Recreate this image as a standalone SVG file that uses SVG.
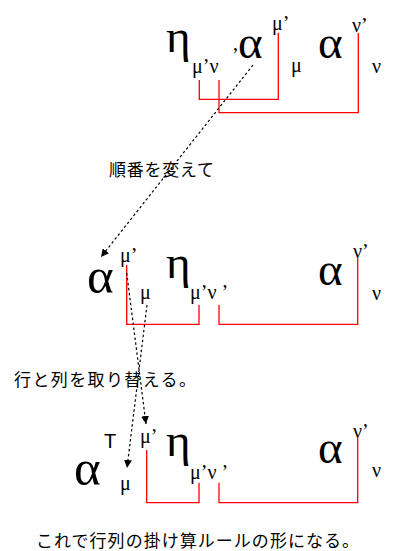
<svg xmlns="http://www.w3.org/2000/svg" width="398" height="551" viewBox="0 0 398 551">
<defs>
<marker id="ah" viewBox="0 0 10 10" refX="10" refY="5" markerWidth="8" markerHeight="8" markerUnits="userSpaceOnUse" orient="auto">
<path d="M0,0 L10,5 L0,10 z" fill="#000"/>
</marker>
</defs>
<style>
.big{font-family:"Liberation Serif","DejaVu Serif",serif;font-size:47px;fill:#000}
.idx{font-family:"Liberation Serif","DejaVu Serif",serif;font-size:20px;fill:#000}
.sans{font-family:"Liberation Sans","DejaVu Sans",sans-serif;font-size:20px;fill:#000}
.jp{font-family:"Noto Sans CJK JP","Noto Sans",sans-serif;font-size:17px;fill:#000}
.red{fill:none;stroke:#ff0000;stroke-width:1.3}
.dot{fill:none;stroke:#000;stroke-width:1.2;stroke-dasharray:2.5,2.5}
</style>
<g id="row1">
<text class="big" x="166" y="52">η</text>
<text class="idx" x="192" y="73">μ’ν</text>
<text class="idx" x="232" y="62">’</text>
<text class="big" x="238" y="58">α</text>
<text class="idx" x="272" y="30">μ’</text>
<text class="idx" x="291" y="72">μ</text>
<text class="big" x="318" y="58">α</text>
<text class="idx" x="352" y="32">ν’</text>
<text class="idx" x="372" y="73">ν</text>
</g>
<g id="row2">
<text class="big" x="87" y="293" style="font-size:51px">α</text>
<text class="idx" x="120" y="262">μ’</text>
<text class="idx" x="140" y="299">μ</text>
<text class="big" x="166" y="278">η</text>
<text class="idx" x="190" y="299">μ’ν ’</text>
<text class="big" x="318" y="285">α</text>
<text class="idx" x="353" y="258">ν’</text>
<text class="idx" x="372" y="300">ν</text>
</g>
<g id="row3">
<text class="big" x="74" y="485" style="font-size:51px">α</text>
<text class="sans" x="104" y="448">T</text>
<text class="idx" x="120" y="490">μ</text>
<text class="idx" x="140" y="443">μ’</text>
<text class="big" x="166" y="456">η</text>
<text class="idx" x="190" y="479">μ’ν ’</text>
<text class="big" x="318" y="463">α</text>
<text class="idx" x="353" y="438">ν’</text>
<text class="idx" x="372" y="477">ν</text>
</g>
<g id="labels">
<text class="jp" x="109" y="176" textLength="105">順番を変えて</text>
<text class="jp" x="14" y="386" textLength="182">行と列を取り替える。</text>
<text class="jp" x="36" y="547" textLength="323">これで行列の掛け算ルールの形になる。</text>
</g>
<g id="connectors">
<path class="red" d="M199.3,80 V99.3 H278.3 V33"/>
<path class="red" d="M219,80 V112.7 H358.3 V33"/>
<path class="red" d="M126.7,265 V324.3 H199 V305"/>
<path class="red" d="M219,305 V324.3 H357.7 V258"/>
<path class="red" d="M146.7,450 V502.7 H199 V482.7"/>
<path class="red" d="M219,482.7 V502.7 H357.7 V436.7"/>
<path class="dot" d="M253,65 L101,257" marker-end="url(#ah)"/>
<path class="dot" d="M126.7,273 L146,424" marker-end="url(#ah)"/>
<path class="dot" d="M147,305 L127,468" marker-end="url(#ah)"/>
</g>
</svg>
